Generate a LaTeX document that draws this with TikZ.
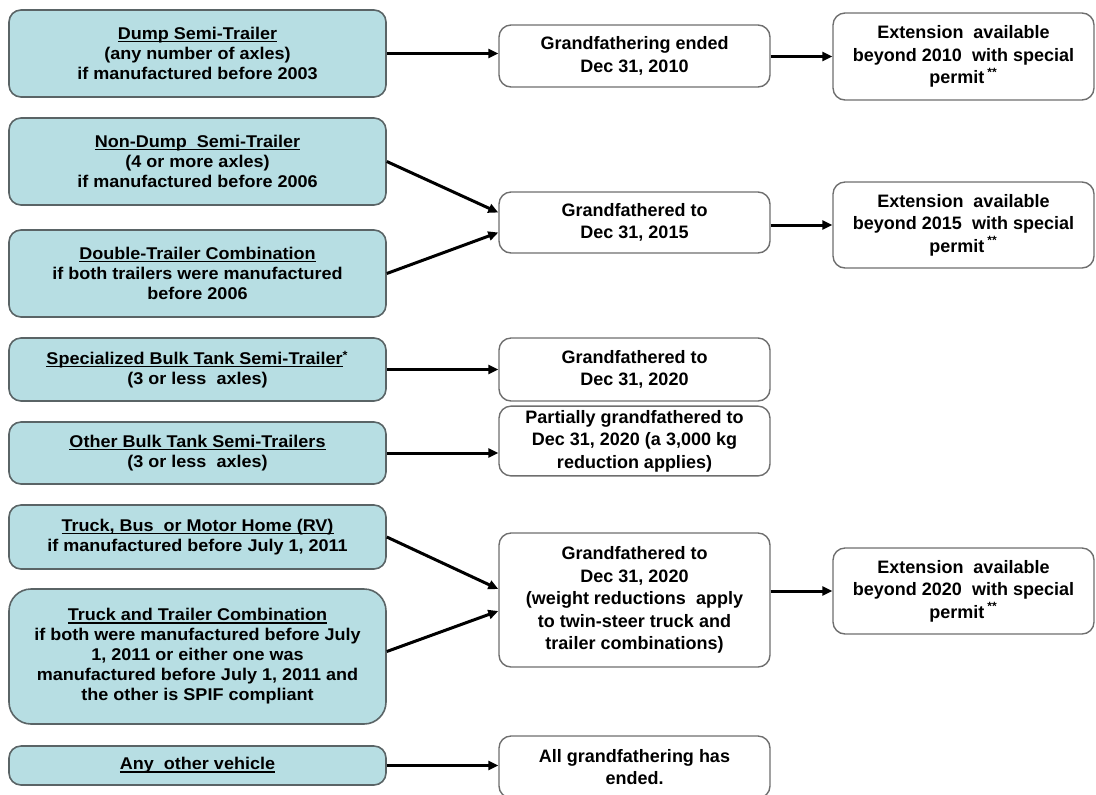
\documentclass[tikz,border=0pt]{standalone}
\usepackage{fontspec}
\setmainfont{Liberation Sans}
\newfontfamily\vehfont[FakeStretch=1.06]{Liberation Sans}
\usetikzlibrary{arrows.meta,calc}

\definecolor{vehfill}{HTML}{B7DEE3}
\definecolor{vehline}{HTML}{5A6466}
\definecolor{ruleline}{HTML}{6E6E6E}

% underlined heading of a vehicle box
\newcommand\vehname[1]{\setbox0\hbox{#1}\rlap{\rule[-1.3pt]{\wd0}{0.55pt}}\box0}

\tikzset{
  vehicle/.style={draw=vehline, fill=vehfill, line width=0.8pt, rounded corners=6pt,
    minimum width=188.5pt, align=center, inner sep=2pt,
    font=\vehfont\bfseries\fontsize{8.5}{10}\selectfont},
  rule/.style={draw=ruleline, fill=white, line width=0.7pt, rounded corners=6pt,
    minimum width=135.5pt, align=center, inner sep=2pt,
    font=\bfseries\fontsize{9}{11.25}\selectfont},
  extension/.style={rule, minimum width=130.5pt},
  link/.style={line width=1.5pt, -{Triangle[length=5pt,width=4.5pt]}}
}

\begin{document}
\begin{tikzpicture}[x=0.5pt,y=-0.5pt]
\useasboundingbox (0,0) rectangle (1096,794);

% vehicle types
\node[vehicle, minimum height=43.5pt] (dump) at (197.5,53.5)
  {\vehname{Dump Semi-Trailer}\\(any number of axles)\\if manufactured before 2003};
\node[vehicle, minimum height=43.5pt] (nondump) at (197.5,161.5)
  {\vehname{Non-Dump\ \ Semi-Trailer}\\(4 or more axles)\\if manufactured before 2006};
\node[vehicle, minimum height=43.5pt] (double) at (197.5,273.5)
  {\vehname{Double-Trailer Combination}\\if both trailers were manufactured\\before 2006};
\node[vehicle, minimum height=31.5pt] (spec) at (197.5,369.5)
  {\vehname{Specialized Bulk Tank Semi-Trailer}\textsuperscript{*}\\(3 or less\ \ axles)};
\node[vehicle, minimum height=31pt] (bulk) at (197.5,453)
  {\vehname{Other Bulk Tank Semi-Trailers}\\(3 or less\ \ axles)};
\node[vehicle, minimum height=32pt] (truck) at (197.5,537)
  {\vehname{Truck, Bus\ \ or Motor Home (RV)}\\if manufactured before July 1, 2011};
\node[vehicle, minimum height=67.5pt, rounded corners=11pt] (trailer) at (197.5,656.5)
  {\vehname{Truck and Trailer Combination}\\if both were manufactured before July\\1, 2011 or either one was\\manufactured before July 1, 2011 and\\the other is SPIF compliant};
\node[vehicle, minimum height=19.5pt] (other) at (197.5,765.5)
  {\vehname{Any\ \ other vehicle}};

% grandfathering rules
\node[rule, minimum height=31pt] (end2010) at (634.5,56)
  {Grandfathering ended\\Dec 31, 2010};
\node[rule, minimum height=30.5pt] (gf2015) at (634.5,222.5)
  {Grandfathered to\\Dec 31, 2015};
\node[rule, minimum height=31.5pt] (gf2020) at (634.5,369.5)
  {Grandfathered to\\Dec 31, 2020};
\node[rule, minimum height=31pt] (partial) at (634.5,441)
  {Partially grandfathered to\\Dec 31, 2020\ (a 3,000 kg\\reduction applies)};
\node[rule, minimum height=67pt] (gf2020w) at (634.5,600)
  {Grandfathered to\\Dec 31, 2020\\(weight reductions\ \ apply\\to twin-steer\ truck\ and\\trailer combinations)};
\node[rule, minimum height=31pt] (allend) at (634.5,767)
  {All grandfathering has\\ended.};

% extensions
\node[extension, minimum height=43.5pt] (ext2010) at (963.5,56.5)
  {Extension\ \ available\\beyond 2010\ \ with special\\permit\,\textsuperscript{**}};
\node[extension, minimum height=43pt] (ext2015) at (963.5,225)
  {Extension\ \ available\\beyond 2015\ \ with special\\permit\,\textsuperscript{**}};
\node[extension, minimum height=43pt] (ext2020) at (963.5,591)
  {Extension\ \ available\\beyond 2020\ \ with special\\permit\,\textsuperscript{**}};

% connectors
\draw[link] (dump.east) -- (dump.east -| end2010.west);
\draw[link] (nondump.east) -- ($(gf2015.west)+(0,-10)$);
\draw[link] (double.east) -- ($(gf2015.west)+(0,10)$);
\draw[link] (spec.east) -- (gf2020.west);
\draw[link] (bulk.east) -- (bulk.east -| partial.west);
\draw[link] (truck.east) -- ($(gf2020w.west)+(0,-11)$);
\draw[link] ($(trailer.east)+(0,-5)$) -- ($(gf2020w.west)+(0,11)$);
\draw[link] (other.east) -- (other.east -| allend.west);

\draw[link] (ext2010.west -| end2010.east) -- (ext2010.west);
\draw[link] (ext2015.west -| gf2015.east) -- (ext2015.west);
\draw[link] (ext2020.west -| gf2020w.east) -- (ext2020.west);
\end{tikzpicture}
\end{document}
